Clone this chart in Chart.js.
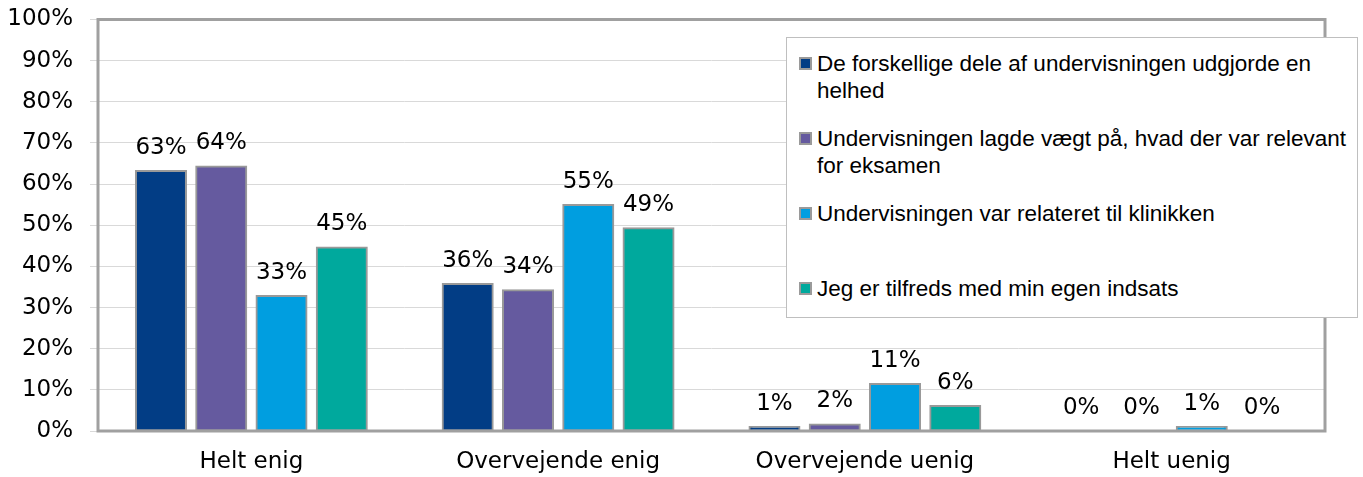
<!DOCTYPE html>
<html>
<head>
<meta charset="utf-8">
<script src="https://cdn.jsdelivr.net/npm/chart.js@4/dist/chart.umd.min.js"></script>
<style>
  html, body { margin: 0; padding: 0; background: #fff; }
  #wrap { position: relative; width: 1363px; height: 477px; }
  #c { position: absolute; left: 0; top: 0; }
  #legend {
    position: absolute; left: 786px; top: 37px; width: 572px; height: 281px;
    box-sizing: border-box; border: 1px solid #bfbfbf; background: #fff;
    font-family: "Liberation Sans", Arial, sans-serif; font-size: 22.5px; color: #000;
  }
  .item { position: absolute; left: 0; width: 570px; }
  .mk { position: absolute; left: 12px; top: 7px; width: 13px; height: 13px;
        box-sizing: border-box; border: 2px solid #9a9a9a; }
  .tx { position: absolute; left: 30px; width: 540px; line-height: 27px; top: 0; }
</style>
</head>
<body>
<div id="wrap">
  <canvas id="c" width="1363" height="477"></canvas>
  <div id="legend"></div>
</div>
<script>
const categories = ["Helt enig", "Overvejende enig", "Overvejende uenig", "Helt uenig"];
const seriesNames = [
  "De forskellige dele af undervisningen udgjorde en helhed",
  "Undervisningen lagde vægt på, hvad der var relevant for eksamen",
  "Undervisningen var relateret til klinikken",
  "Jeg er tilfreds med min egen indsats"
];
const helhed   = [63.2, 35.7, 1.0, 0];
const eksamen  = [64.3, 34.2, 1.6, 0];
const klinik   = [32.8, 54.9, 11.4, 1.0];
const indsats  = [44.6, 49.3, 6.1, 0];
const seriesValues = [helhed, eksamen, klinik, indsats];
const colors = ["#023d85", "#655a9f", "#009ee0", "#00a99d"];
const yTicks = [0, 10, 20, 30, 40, 50, 60, 70, 80, 90, 100];

const axisFont = { family: "'DejaVu Sans', sans-serif", size: 23 };

const frame = {
  id: 'frame',
  afterDraw(chart) {
    const a = chart.chartArea, ctx = chart.ctx;
    ctx.save();
    ctx.strokeStyle = '#a0a0a0';
    ctx.lineWidth = 3;
    ctx.strokeRect(a.left, a.top, a.right - a.left, a.bottom - a.top);
    ctx.restore();
  }
};

const dataLabels = {
  id: 'dataLabels',
  afterDatasetsDraw(chart) {
    const ctx = chart.ctx;
    ctx.save();
    ctx.font = axisFont.size + "px " + axisFont.family;
    ctx.fillStyle = '#000';
    ctx.textAlign = 'center';
    ctx.textBaseline = 'alphabetic';
    chart.data.datasets.forEach((ds, i) => {
      const meta = chart.getDatasetMeta(i);
      meta.data.forEach((bar, j) => {
        ctx.fillText(Math.round(ds.data[j]) + '%', bar.x, bar.y - 17);
      });
    });
    ctx.restore();
  }
};

new Chart(document.getElementById('c'), {
  type: 'bar',
  data: {
    labels: categories,
    datasets: seriesValues.map((vals, i) => ({
      label: seriesNames[i],
      data: vals,
      backgroundColor: colors[i],
      borderColor: '#999999',
      borderWidth: 2,
      borderSkipped: false,
      inflateAmount: 1,
      categoryPercentage: 0.786,
      barPercentage: 0.83
    }))
  },
  options: {
    responsive: false,
    animation: false,
    devicePixelRatio: 1,
    layout: { padding: { left: 0, right: 38, top: 19.5, bottom: 0 } },
    plugins: { legend: { display: false }, tooltip: { enabled: false } },
    scales: {
      x: {
        grid: { display: false, drawTicks: false },
        border: { display: false },
        ticks: { color: '#000', font: axisFont, padding: 17 },
        afterFit(scale) { scale.height = 46; scale.paddingLeft = 0; scale.paddingRight = 0; }
      },
      y: {
        min: 0, max: 100,
        afterBuildTicks(scale) { scale.ticks = yTicks.map(v => ({ value: v })); },
        grid: { color: '#d9d9d9', lineWidth: 1, tickLength: 8 },
        border: { display: false },
        ticks: { color: '#000', font: axisFont, padding: 17, callback: v => v + '%' },
        afterFit(scale) { scale.width = 98; scale.paddingTop = 0; scale.paddingBottom = 0; }
      }
    }
  },
  plugins: [frame, dataLabels]
});

const legend = document.getElementById('legend');
seriesNames.forEach((name, i) => {
  const item = document.createElement('div');
  item.className = 'item';
  item.style.top = (11.5 + i * 75) + 'px';
  const mk = document.createElement('div');
  mk.className = 'mk';
  mk.style.background = colors[i];
  const tx = document.createElement('div');
  tx.className = 'tx';
  tx.textContent = name;
  item.appendChild(mk);
  item.appendChild(tx);
  legend.appendChild(item);
});
</script>
</body>
</html>
